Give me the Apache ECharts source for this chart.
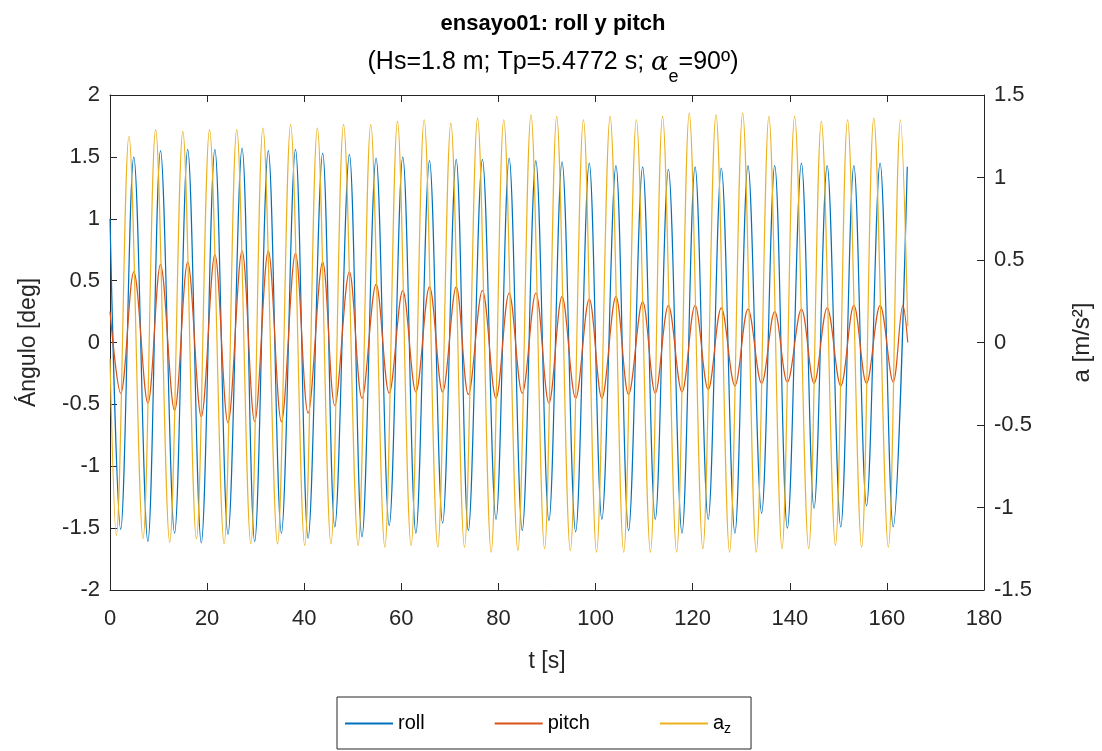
<!DOCTYPE html>
<html><head><meta charset="utf-8">
<script src="https://cdn.jsdelivr.net/npm/echarts@6/dist/echarts.min.js"></script>
<style>html,body{margin:0;padding:0;background:#fff}#c{width:1102px;height:751px}</style>
</head><body><div id="c"></div>
<script>
// ---- data (extrema of each oscillation) ----
const rollStart = [0, 1.0];
const rollEnd = [164.2, 1.42];
const rollPeakT = [4.9,10.4,16.0,21.6,27.2,32.6,38.2,43.8,49.3,54.8,60.3,65.8,71.3,76.7,82.2,87.7,93.1,98.7,104.2,109.7,115.0,120.5,125.9,131.4,136.9,142.4,147.7,153.2,158.6];
const rollPeakV = [1.50,1.55,1.56,1.56,1.57,1.55,1.56,1.53,1.52,1.49,1.50,1.47,1.48,1.48,1.49,1.47,1.46,1.45,1.43,1.42,1.40,1.42,1.41,1.43,1.43,1.45,1.43,1.43,1.45];
const rollTroughT = [2.2,7.8,13.3,18.8,24.3,29.8,35.3,40.8,46.3,51.9,57.5,63.0,68.5,73.8,79.5,84.9,90.4,95.9,101.3,106.8,112.3,117.8,123.2,128.7,134.2,139.5,145.0,150.5,155.8,161.3];
const rollTroughV = [-1.51,-1.61,-1.54,-1.62,-1.55,-1.61,-1.54,-1.58,-1.49,-1.57,-1.48,-1.54,-1.46,-1.52,-1.43,-1.52,-1.44,-1.53,-1.43,-1.52,-1.43,-1.54,-1.43,-1.54,-1.38,-1.50,-1.34,-1.49,-1.32,-1.49];

const pitchStart = [0, 0.25];
const pitchEnd = [164.3, 0.0];
const pitchPeakT = [4.9,10.4,16.0,21.6,27.2,32.6,38.2,43.8,49.3,54.8,60.3,65.8,71.3,76.7,82.2,87.7,93.1,98.7,104.2,109.7,115.0,120.5,125.9,131.4,136.9,142.4,147.7,153.2,158.6,163.3];
const pitchPeakV = [0.57,0.63,0.65,0.71,0.74,0.74,0.72,0.65,0.57,0.47,0.42,0.45,0.45,0.42,0.40,0.40,0.37,0.35,0.37,0.33,0.30,0.30,0.28,0.27,0.25,0.27,0.28,0.30,0.30,0.30];
const pitchTroughT = [2.2,7.8,13.3,18.8,24.3,29.8,35.3,40.8,46.3,51.9,57.5,63.0,68.5,73.8,79.5,84.9,90.4,95.9,101.3,106.8,112.3,117.8,123.2,128.7,134.2,139.5,145.0,150.5,155.8,161.3];
const pitchTroughV = [-0.41,-0.49,-0.55,-0.60,-0.65,-0.64,-0.64,-0.57,-0.51,-0.45,-0.41,-0.40,-0.40,-0.42,-0.45,-0.41,-0.49,-0.45,-0.45,-0.42,-0.41,-0.40,-0.38,-0.35,-0.33,-0.32,-0.33,-0.35,-0.33,-0.32];

const azStart = [0, -0.1];
const azEnd = [164.3, 0.1];
const azPeakT = [3.9,9.4,15.0,20.5,26.1,31.5,37.2,42.7,48.1,53.7,59.2,64.7,70.2,75.7,81.1,86.7,92.0,97.5,103.0,108.4,113.8,119.3,124.8,130.3,135.7,141.0,146.5,151.9,157.3,162.8];
const azPeakV = [1.25,1.29,1.28,1.29,1.29,1.30,1.32,1.30,1.32,1.32,1.34,1.35,1.33,1.36,1.35,1.38,1.37,1.35,1.37,1.35,1.37,1.39,1.38,1.39,1.37,1.37,1.34,1.35,1.36,1.35];
const azTroughT = [1.3,6.8,12.3,17.8,23.5,29.0,34.5,40.1,45.5,51.1,56.6,62.0,67.5,73.0,78.5,84.0,89.5,94.8,100.2,105.8,111.3,116.7,122.1,127.6,133.1,138.4,143.9,149.4,154.8,160.3];
const azTroughV = [-1.17,-1.19,-1.21,-1.19,-1.22,-1.22,-1.22,-1.23,-1.22,-1.23,-1.24,-1.23,-1.24,-1.24,-1.27,-1.26,-1.25,-1.26,-1.27,-1.27,-1.27,-1.27,-1.25,-1.27,-1.27,-1.25,-1.25,-1.23,-1.24,-1.24];

const xTicks = {min: 0, max: 180, interval: 20};
const yLeftTicks = {min: -2, max: 2, interval: 0.5};
const yRightTicks = {min: -1.5, max: 1.5, interval: 0.5};

function build(start, pT, pV, tT, tV, end) {
  const pts = [start];
  pT.forEach((t, i) => pts.push([t, pV[i]]));
  tT.forEach((t, i) => pts.push([t, tV[i]]));
  pts.push(end);
  pts.sort((a, b) => a[0] - b[0]);
  return pts;
}
const rollData = build(rollStart, rollPeakT, rollPeakV, rollTroughT, rollTroughV, rollEnd);
const pitchData = build(pitchStart, pitchPeakT, pitchPeakV, pitchTroughT, pitchTroughV, pitchEnd);
const azData = build(azStart, azPeakT, azPeakV, azTroughT, azTroughV, azEnd);

const FONT = "'Liberation Sans', Arial, sans-serif";
const AX = '#262626';

const chart = echarts.init(document.getElementById('c'), null, {renderer: 'canvas'});
function axisCommon(margin) {
  return {
    axisLine: {show: true, onZero: false, lineStyle: {color: AX, width: 1}},
    axisTick: {show: true, inside: true, length: 7, lineStyle: {color: AX, width: 1}},
    splitLine: {show: false},
    axisLabel: {color: AX, fontSize: 22, fontFamily: FONT, margin: margin},
    nameTextStyle: {color: AX, fontSize: 23, fontFamily: FONT}
  };
}
chart.setOption({
  animation: false,
  backgroundColor: '#ffffff',
  title: [
    {text: 'ensayo01: roll y pitch', left: 548, textAlign: 'center', top: 8,
     textStyle: {fontSize: 22, fontWeight: 'bold', color: '#000', fontFamily: FONT}},
    {text: '{n|(Hs=1.8 m; Tp=5.4772 s; }{a|α}{s|e}{n|=90º)}', left: 548, textAlign: 'center', top: 45,
     textStyle: {fontWeight: 'normal', rich: {
       n: {fontSize: 25, fontWeight: 'normal', color: '#000', fontFamily: FONT, lineHeight: 30, verticalAlign: 'top'},
       a: {fontSize: 26, fontWeight: 'normal', color: '#000', fontFamily: "'DejaVu Serif', serif", fontStyle: 'italic', lineHeight: 30, verticalAlign: 'top'},
       s: {fontSize: 18, fontWeight: 'normal', color: '#000', fontFamily: FONT, lineHeight: 18, verticalAlign: 'top', padding: [18, 0, 0, 0]}
     }}}
  ],
  legend: {
    data: ['roll', 'pitch', 'az'],
    left: 337, top: 697,
    orient: 'horizontal',
    backgroundColor: '#fff',
    borderColor: AX, borderWidth: 1,
    padding: [14, 20, 13, 8],
    itemWidth: 48, itemHeight: 2, itemGap: 70,
    icon: 'rect',
    formatter: function (name) { return name === 'az' ? '{n|a}{s|z}' : '{n|' + name + '}'; },
    textStyle: {color: '#000', fontSize: 20, fontFamily: FONT,
      rich: {
        n: {fontSize: 20, fontFamily: FONT, color: '#000', lineHeight: 22},
        s: {fontSize: 14, fontFamily: FONT, color: '#000', lineHeight: 14, padding: [11, 0, 0, 0]}
      }}
  },
  grid: {left: 110, right: 117, top: 95, bottom: 161, containLabel: false},
  xAxis: [
    Object.assign(axisCommon(18), {type: 'value', position: 'bottom', min: xTicks.min, max: xTicks.max, interval: xTicks.interval,
      name: 't [s]', nameLocation: 'middle', nameGap: 60}),
    Object.assign(axisCommon(10), {type: 'value', position: 'top', min: xTicks.min, max: xTicks.max, interval: xTicks.interval,
      axisLabel: {show: false}})
  ],
  yAxis: [
    Object.assign(axisCommon(10), {type: 'value', position: 'left', min: yLeftTicks.min, max: yLeftTicks.max, interval: yLeftTicks.interval,
      name: 'Ángulo [deg]', nameLocation: 'middle', nameGap: 70, nameRotate: 90}),
    Object.assign(axisCommon(10), {type: 'value', position: 'right', min: yRightTicks.min, max: yRightTicks.max, interval: yRightTicks.interval,
      name: 'a [m/s²]', nameLocation: 'middle', nameGap: 86, nameRotate: 90,
      nameTextStyle: {color: AX, fontSize: 24, fontFamily: FONT}})
  ],
  series: [
    {name: 'roll', type: 'line', xAxisIndex: 0, yAxisIndex: 0, data: rollData, showSymbol: false, smooth: 0.36,
     color: '#0072BD', lineStyle: {width: 1.2, color: '#0072BD'}},
    {name: 'pitch', type: 'line', xAxisIndex: 0, yAxisIndex: 0, data: pitchData, showSymbol: false, smooth: 0.36,
     color: '#D95319', lineStyle: {width: 1.2, color: '#D95319'}},
    {name: 'az', type: 'line', xAxisIndex: 0, yAxisIndex: 1, data: azData, showSymbol: false, smooth: 0.36,
     color: '#EDB120', lineStyle: {width: 1.2, color: '#EDB120'}}
  ]
});
</script></body></html>
